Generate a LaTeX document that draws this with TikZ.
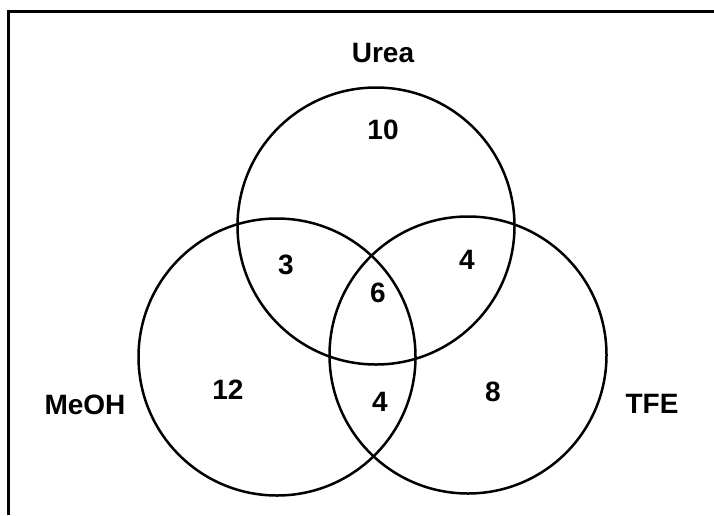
\documentclass[tikz,border=0pt]{standalone}
\usepackage{fontspec}
\setmainfont{Liberation Sans}
\begin{document}
\begin{tikzpicture}[x=1pt,y=-1pt,
  ring/.style={draw=black,line width=2.5pt},
  lbl/.style={inner sep=0pt,font=\fontsize{28}{30}\selectfont\bfseries},
  frame/.style={draw=black,line width=3pt}]
\useasboundingbox (0,0) rectangle (714,515);
\coordinate (tr) at (714,11.5);
\coordinate (tl) at (6.5,11.5);
\coordinate (bl) at (8,515);
\draw[frame] (tr) -- (tl);
\draw[frame] (8,10) -- (bl);
\coordinate (urea) at (376,226);
\coordinate (meoh) at (277,357);
\coordinate (tfe) at (468,355);
\draw[ring] (urea) circle (138.5);
\draw[ring] (meoh) circle (138.5);
\draw[ring] (tfe) circle (138.5);
\node[lbl] (lu) at (383,53) {Urea};
\node[lbl] (lm) at (85,405) {MeOH};
\node[lbl] (lt) at (652,404) {TFE};
\node[lbl] (n10) at (383,130) {10};
\node[lbl] (n3) at (286,265) {3};
\node[lbl] (n4a) at (467,260) {4};
\node[lbl] (n6) at (378,293) {6};
\node[lbl] (n12) at (228,390) {12};
\node[lbl] (n4b) at (380,402) {4};
\node[lbl] (n8) at (493,392) {8};
\end{tikzpicture}
\end{document}
